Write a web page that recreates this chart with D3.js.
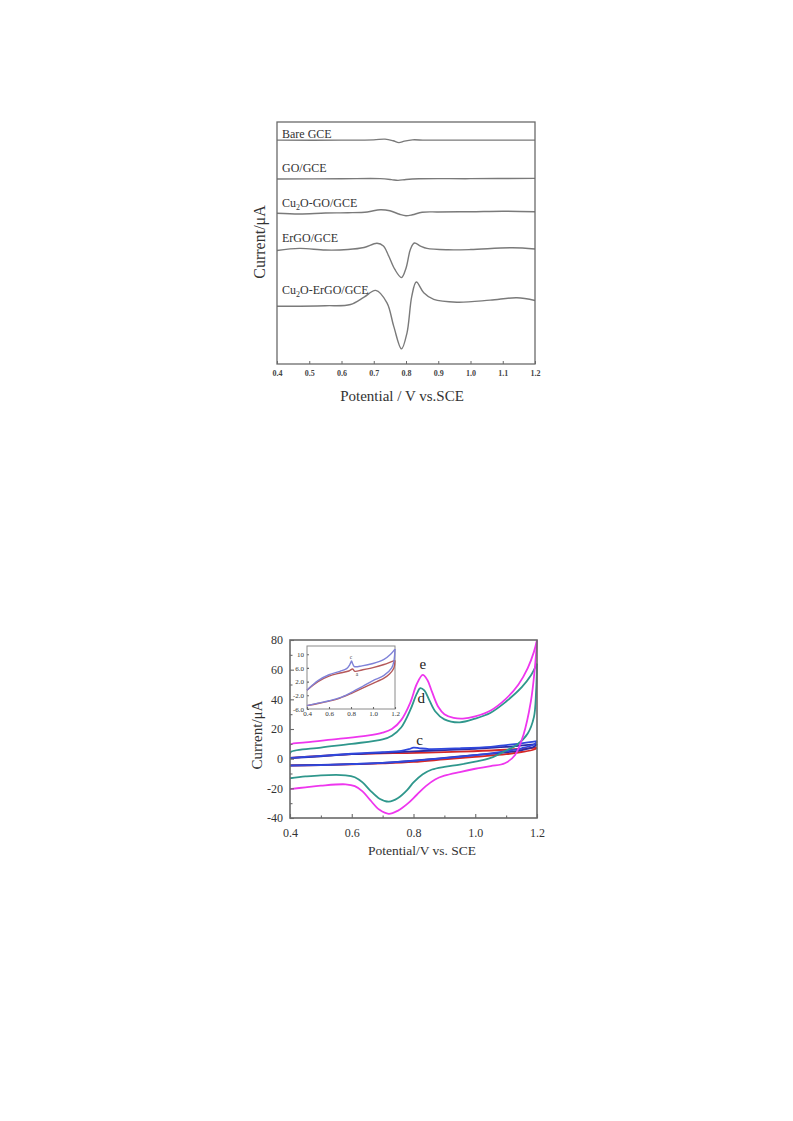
<!DOCTYPE html>
<html>
<head>
<meta charset="utf-8">
<script src="https://cdn.jsdelivr.net/npm/d3@7"></script>
<style>
  html, body { margin: 0; padding: 0; background: #fff; }
  svg { display: block; }
  text { font-family: "Liberation Serif", "Times New Roman", serif; }
</style>
</head>
<body>
<svg id="fig" width="793" height="1121"></svg>
<script>
// ---------- Panel A: stacked DPV responses ----------
const dpvNames = ["Bare GCE", "GO/GCE", "Cu2O-GO/GCE", "ErGO/GCE", "Cu2O-ErGO/GCE"];
const dpvOffsets = [222, 183.5, 150, 113, 57.3];
const dpvBare = [[0.4,0],[0.6,0],[0.7,0.3],[0.735,1],[0.76,-0.6],[0.778,-2.5],[0.795,-1],[0.82,0.3],[0.86,0],[1.0,0],[1.2,0]];
const dpvGO = [[0.4,0],[0.6,0.2],[0.72,0.3],[0.755,-0.6],[0.775,-1.4],[0.8,-0.5],[0.84,0.2],[1.0,0.3],[1.2,0.6]];
const dpvCuGO = [[0.4,-0.5],[0.47,-1.2],[0.55,-0.3],[0.62,0],[0.68,0.8],[0.72,3],[0.75,2],[0.78,-1.5],[0.8,-3],[0.82,-2],[0.85,0.5],[0.9,0.8],[1.0,1],[1.1,1.5],[1.2,1]];
const dpvErGO = [[0.4,-0.5],[0.47,1.7],[0.55,0],[0.62,0.5],[0.67,2.5],[0.71,6.7],[0.73,4],[0.746,-5.7],[0.765,-19],[0.786,-27.3],[0.8,-18],[0.814,1],[0.826,7],[0.845,4],[0.865,1.7],[0.93,0.3],[1.0,0.5],[1.13,2.3],[1.2,1]];
const dpvCuErGO = [[0.4,0],[0.55,0.5],[0.628,1.7],[0.67,9],[0.706,15.7],[0.741,3.4],[0.762,-20],[0.786,-42.3],[0.803,-26.6],[0.818,10],[0.832,24],[0.855,13.4],[0.886,6.7],[0.958,4],[1.061,6],[1.144,8.4],[1.2,5.7]];
const dpvTraces = [dpvBare, dpvGO, dpvCuGO, dpvErGO, dpvCuErGO];
const dpvLabelY = [137.5, 171.5, 206.5, 241.5, 294];
const dpvTicks = [0.4, 0.5, 0.6, 0.7, 0.8, 0.9, 1.0, 1.1, 1.2];

// ---------- Panel B: cyclic voltammograms (anodic sweep, then cathodic sweep) ----------
const cvEfwd = [[0.4,6],[0.401,9.5],[0.45,11],[0.55,13.2],[0.65,15.5],[0.7,17.5],[0.73,20],[0.76,26],[0.79,38],[0.81,50],[0.83,56.5],[0.845,53],[0.86,45],[0.88,35],[0.9,30],[0.93,27.5],[0.96,27],[1.0,28.5],[1.05,32.5],[1.1,40.5],[1.14,50],[1.17,61],[1.19,72],[1.2,80]];
const cvErev = [[1.2,80],[1.193,61],[1.18,38.4],[1.156,16],[1.129,2.5],[1.096,-3.1],[1.05,-5],[1.0,-6.8],[0.95,-9],[0.9,-11.5],[0.87,-14],[0.84,-18.5],[0.81,-24.5],[0.78,-30.5],[0.75,-35],[0.72,-37.2],[0.69,-34.5],[0.66,-28],[0.635,-22],[0.61,-18.5],[0.58,-17.3],[0.5,-18.2],[0.45,-19.3],[0.4,-20.5]];
const cvDfwd = [[0.4,3],[0.402,4.5],[0.5,7.5],[0.6,10],[0.7,13],[0.73,15.5],[0.76,21],[0.79,33],[0.81,43.5],[0.822,47.5],[0.835,46],[0.85,40],[0.87,32],[0.9,26.5],[0.95,24.5],[1.0,27],[1.05,31],[1.1,38.5],[1.15,48],[1.18,56],[1.2,64]];
const cvDrev = [[1.2,64],[1.197,45],[1.19,28],[1.17,17],[1.134,9.2],[1.1,5.5],[1.05,0.5],[1.0,-2],[0.95,-4],[0.9,-5.5],[0.86,-7.3],[0.83,-10.5],[0.8,-16],[0.78,-21],[0.75,-26.5],[0.72,-29],[0.69,-27],[0.66,-21.5],[0.635,-16],[0.61,-12.5],[0.58,-11.2],[0.5,-11.2],[0.45,-12],[0.4,-13.2]];
const cvCfwd = [[0.4,0.5],[0.5,1.9],[0.6,3.3],[0.7,4.4],[0.76,5.3],[0.785,6.4],[0.8,7.4],[0.82,7],[0.85,6.5],[0.95,7],[1.05,8],[1.1,9.2],[1.15,10.3],[1.2,11.8]];
const cvCrev = [[1.2,11.8],[1.19,9.5],[1.15,7],[1.124,5.9],[1.05,3.6],[0.994,2.3],[0.9,0.3],[0.778,-1.8],[0.7,-2.9],[0.6,-3.7],[0.5,-4.3],[0.4,-4.7]];
const cvBfwd = [[0.4,0.3],[0.5,1.6],[0.6,3],[0.7,4],[0.8,4.9],[0.9,5.8],[1.0,6.7],[1.1,7.9],[1.2,9.8]];
const cvBrev = [[1.2,9.8],[1.19,8],[1.15,5.8],[1.1,4.3],[1.0,2.4],[0.9,0.5],[0.8,-1.4],[0.7,-2.8],[0.6,-3.6],[0.5,-4.2],[0.4,-4.5]];
const cvAfwd = [[0.4,0.6],[0.5,1.8],[0.6,3],[0.7,3.6],[0.778,3.8],[0.9,4.4],[0.994,5],[1.1,6],[1.2,7.4]];
const cvArev = [[1.2,7.4],[1.19,6.2],[1.15,4.5],[1.1,3],[1.0,1.2],[0.9,-0.5],[0.8,-2.2],[0.7,-3.2],[0.6,-3.9],[0.5,-4.3],[0.4,-4.6]];
const cvSeries = [[cvAfwd, cvArev], [cvBfwd, cvBrev], [cvCfwd, cvCrev], [cvDfwd, cvDrev], [cvEfwd, cvErev]];
const cvColors = ["#d42828", "#2a2aa6", "#3048dc", "#2f978c", "#ee36ee"];
const cvTags = ["e", "d", "c"];
const cvTagPos = [[0.83, 60.5], [0.825, 37.5], [0.82, 9]];
const cvYMajor = [-40, -20, 0, 20, 40, 60, 80];
const cvYMinor = [-30, -10, 10, 30, 50, 70];
const cvXMajor = [0.4, 0.6, 0.8, 1.0, 1.2];
const cvXMinor = [0.5, 0.7, 0.9, 1.1];

// inset: low-current electrodes a and c
const inCfwd = [[0.4,-0.5],[0.45,1],[0.5,2.3],[0.6,4],[0.7,5],[0.76,5.8],[0.79,7],[0.805,8],[0.815,7.2],[0.83,6.4],[0.9,6.6],[1.0,7.3],[1.1,8.5],[1.16,10],[1.2,11.5]];
const inCrev = [[1.2,11.5],[1.19,8],[1.17,6],[1.1,3.8],[1.0,2.3],[0.9,0.5],[0.8,-1.2],[0.7,-2.7],[0.6,-3.6],[0.5,-4.3],[0.4,-5]];
const inAfwd = [[0.4,-0.5],[0.5,2],[0.6,3.6],[0.7,4.5],[0.78,5.1],[0.815,5.7],[0.835,5.0],[0.9,5.4],[1.0,6.1],[1.1,7],[1.2,8.2]];
const inArev = [[1.2,8.2],[1.19,6],[1.15,4.2],[1.1,3],[1.0,1.5],[0.9,0],[0.8,-1.5],[0.7,-2.8],[0.6,-3.7],[0.5,-4.4],[0.4,-5]];
const inSeries = [[inAfwd, inArev], [inCfwd, inCrev]];
const inColors = ["#b5585a", "#7f82d8"];
const inYTicks = [-6, -2, 2, 6, 10];
const inXTicks = [0.4, 0.6, 0.8, 1.0, 1.2];
const inTags = ["c", "a"];
const inTagPos = [[0.8, 8.6], [0.855, 3.6]];

const svg = d3.select("#fig");
const frameColor = "#6a6a6a";
const line = d3.line().curve(d3.curveCatmullRom.alpha(0.5));

// ===== Panel A =====
{
  const L = 277, R = 535, T = 122, B = 364;
  const x = d3.scaleLinear().domain([0.4, 1.2]).range([L, R]);
  const y = d3.scaleLinear().domain([0, 240]).range([B, T]);
  const g = svg.append("g");

  dpvTraces.forEach((tr, i) => {
    g.append("path")
      .attr("d", line(tr.map(p => [x(p[0]), y(p[1] + dpvOffsets[i])])))
      .attr("fill", "none").attr("stroke", "#7a7a7a").attr("stroke-width", 1.4);
  });

  g.append("rect").attr("x", L).attr("y", T).attr("width", R - L).attr("height", B - T)
    .attr("fill", "none").attr("stroke", frameColor).attr("stroke-width", 1.3);

  const ax = g.append("g").attr("transform", `translate(0,${B})`)
    .call(d3.axisBottom(x).tickValues(dpvTicks).tickFormat(d3.format(".1f"))
      .tickSizeInner(-3).tickSizeOuter(0).tickPadding(6));
  ax.select(".domain").remove();
  ax.selectAll("line").attr("stroke", frameColor);
  ax.selectAll("text").attr("font-size", 8).attr("font-weight", "bold").attr("fill", "#444")
    .attr("font-family", "Liberation Serif, serif");

  dpvNames.forEach((n, i) => {
    const t = g.append("text").attr("x", 282).attr("y", dpvLabelY[i])
      .attr("font-size", 12).attr("fill", "#333");
    if (n.startsWith("Cu2O")) {
      t.append("tspan").text("Cu");
      t.append("tspan").text("2").attr("font-size", 8).attr("dy", 3);
      t.append("tspan").text(n.slice(3)).attr("dy", -3);
    } else t.text(n);
  });

  g.append("text").attr("x", 402).attr("y", 401).attr("text-anchor", "middle")
    .attr("font-size", 15).attr("fill", "#333").text("Potential / V vs.SCE");
  g.append("text").attr("transform", "translate(265,242) rotate(-90)").attr("text-anchor", "middle")
    .attr("font-size", 16).attr("fill", "#333").text("Current/μA");
}

// ===== Panel B =====
{
  const L = 290, R = 537, T = 640, B = 818;
  const x = d3.scaleLinear().domain([0.4, 1.2]).range([L, R]);
  const y = d3.scaleLinear().domain([-40, 80]).range([B, T]);
  const g = svg.append("g");

  g.append("defs").append("clipPath").attr("id", "cvclip")
    .append("rect").attr("x", L).attr("y", T - 1).attr("width", R - L + 1).attr("height", B - T + 1);
  const plot = g.append("g").attr("clip-path", "url(#cvclip)");
  cvSeries.forEach((sweeps, i) => {
    sweeps.forEach(s => {
      plot.append("path").attr("d", line(s.map(p => [x(p[0]), y(p[1])])))
        .attr("fill", "none").attr("stroke", cvColors[i]).attr("stroke-width", 1.8);
    });
  });

  cvTags.forEach((t, i) => {
    g.append("text").attr("x", x(cvTagPos[i][0])).attr("y", y(cvTagPos[i][1]))
      .attr("text-anchor", "middle").attr("font-size", 15).attr("fill", "#222").text(t);
  });

  g.append("rect").attr("x", L).attr("y", T).attr("width", R - L).attr("height", B - T)
    .attr("fill", "none").attr("stroke", frameColor).attr("stroke-width", 1.6);

  const styleAxis = (a, size) => {
    a.select(".domain").remove();
    a.selectAll("line").attr("stroke", frameColor).attr("stroke-width", 1.1);
    a.selectAll("text").attr("font-size", size).attr("fill", "#333")
      .attr("font-family", "Liberation Serif, serif");
  };
  styleAxis(g.append("g").attr("transform", `translate(0,${B})`)
    .call(d3.axisBottom(x).tickValues(cvXMajor).tickFormat(d3.format(".1f"))
      .tickSizeInner(-4).tickSizeOuter(0).tickPadding(10)), 12);
  styleAxis(g.append("g").attr("transform", `translate(0,${B})`)
    .call(d3.axisBottom(x).tickValues(cvXMinor).tickFormat("")
      .tickSizeInner(-2.5).tickSizeOuter(0)), 12);
  styleAxis(g.append("g").attr("transform", `translate(${L},0)`)
    .call(d3.axisLeft(y).tickValues(cvYMajor).tickFormat(d => String(d))
      .tickSizeInner(-4).tickSizeOuter(0).tickPadding(7)), 12);
  styleAxis(g.append("g").attr("transform", `translate(${L},0)`)
    .call(d3.axisLeft(y).tickValues(cvYMinor).tickFormat("")
      .tickSizeInner(-2.5).tickSizeOuter(0)), 12);

  g.append("text").attr("x", 422).attr("y", 855).attr("text-anchor", "middle")
    .attr("font-size", 13.5).attr("fill", "#333").text("Potential/V vs. SCE");
  g.append("text").attr("transform", "translate(262,735) rotate(-90)").attr("text-anchor", "middle")
    .attr("font-size", 15).attr("fill", "#333").text("Current/μA");

  // inset
  const iL = 307, iR = 395, iT = 646, iB = 709;
  const ix = d3.scaleLinear().domain([0.4, 1.2]).range([iL, iR]);
  const iy = d3.scaleLinear().domain([-6, 12.4]).range([iB, iT]);
  const ig = g.append("g");
  ig.append("rect").attr("x", iL).attr("y", iT).attr("width", iR - iL).attr("height", iB - iT)
    .attr("fill", "#fff").attr("stroke", "#8a8a8a").attr("stroke-width", 1);
  inSeries.forEach((sweeps, i) => {
    sweeps.forEach(s => {
      ig.append("path").attr("d", line(s.map(p => [ix(p[0]), iy(p[1])])))
        .attr("fill", "none").attr("stroke", inColors[i]).attr("stroke-width", 1.4);
    });
  });
  inTags.forEach((t, i) => {
    ig.append("text").attr("x", ix(inTagPos[i][0])).attr("y", iy(inTagPos[i][1]))
      .attr("text-anchor", "middle").attr("font-size", 5.5).attr("fill", "#444").text(t);
  });
  styleAxis(ig.append("g").attr("transform", `translate(0,${iB})`)
    .call(d3.axisBottom(ix).tickValues(inXTicks).tickFormat(d3.format(".1f"))
      .tickSizeInner(-2).tickSizeOuter(0).tickPadding(2)), 7);
  styleAxis(ig.append("g").attr("transform", `translate(${iL},0)`)
    .call(d3.axisLeft(iy).tickValues(inYTicks).tickFormat(d => d >= 10 ? String(d) : d.toFixed(1))
      .tickSizeInner(-2).tickSizeOuter(0).tickPadding(3)), 7);
}
</script>
</body>
</html>
